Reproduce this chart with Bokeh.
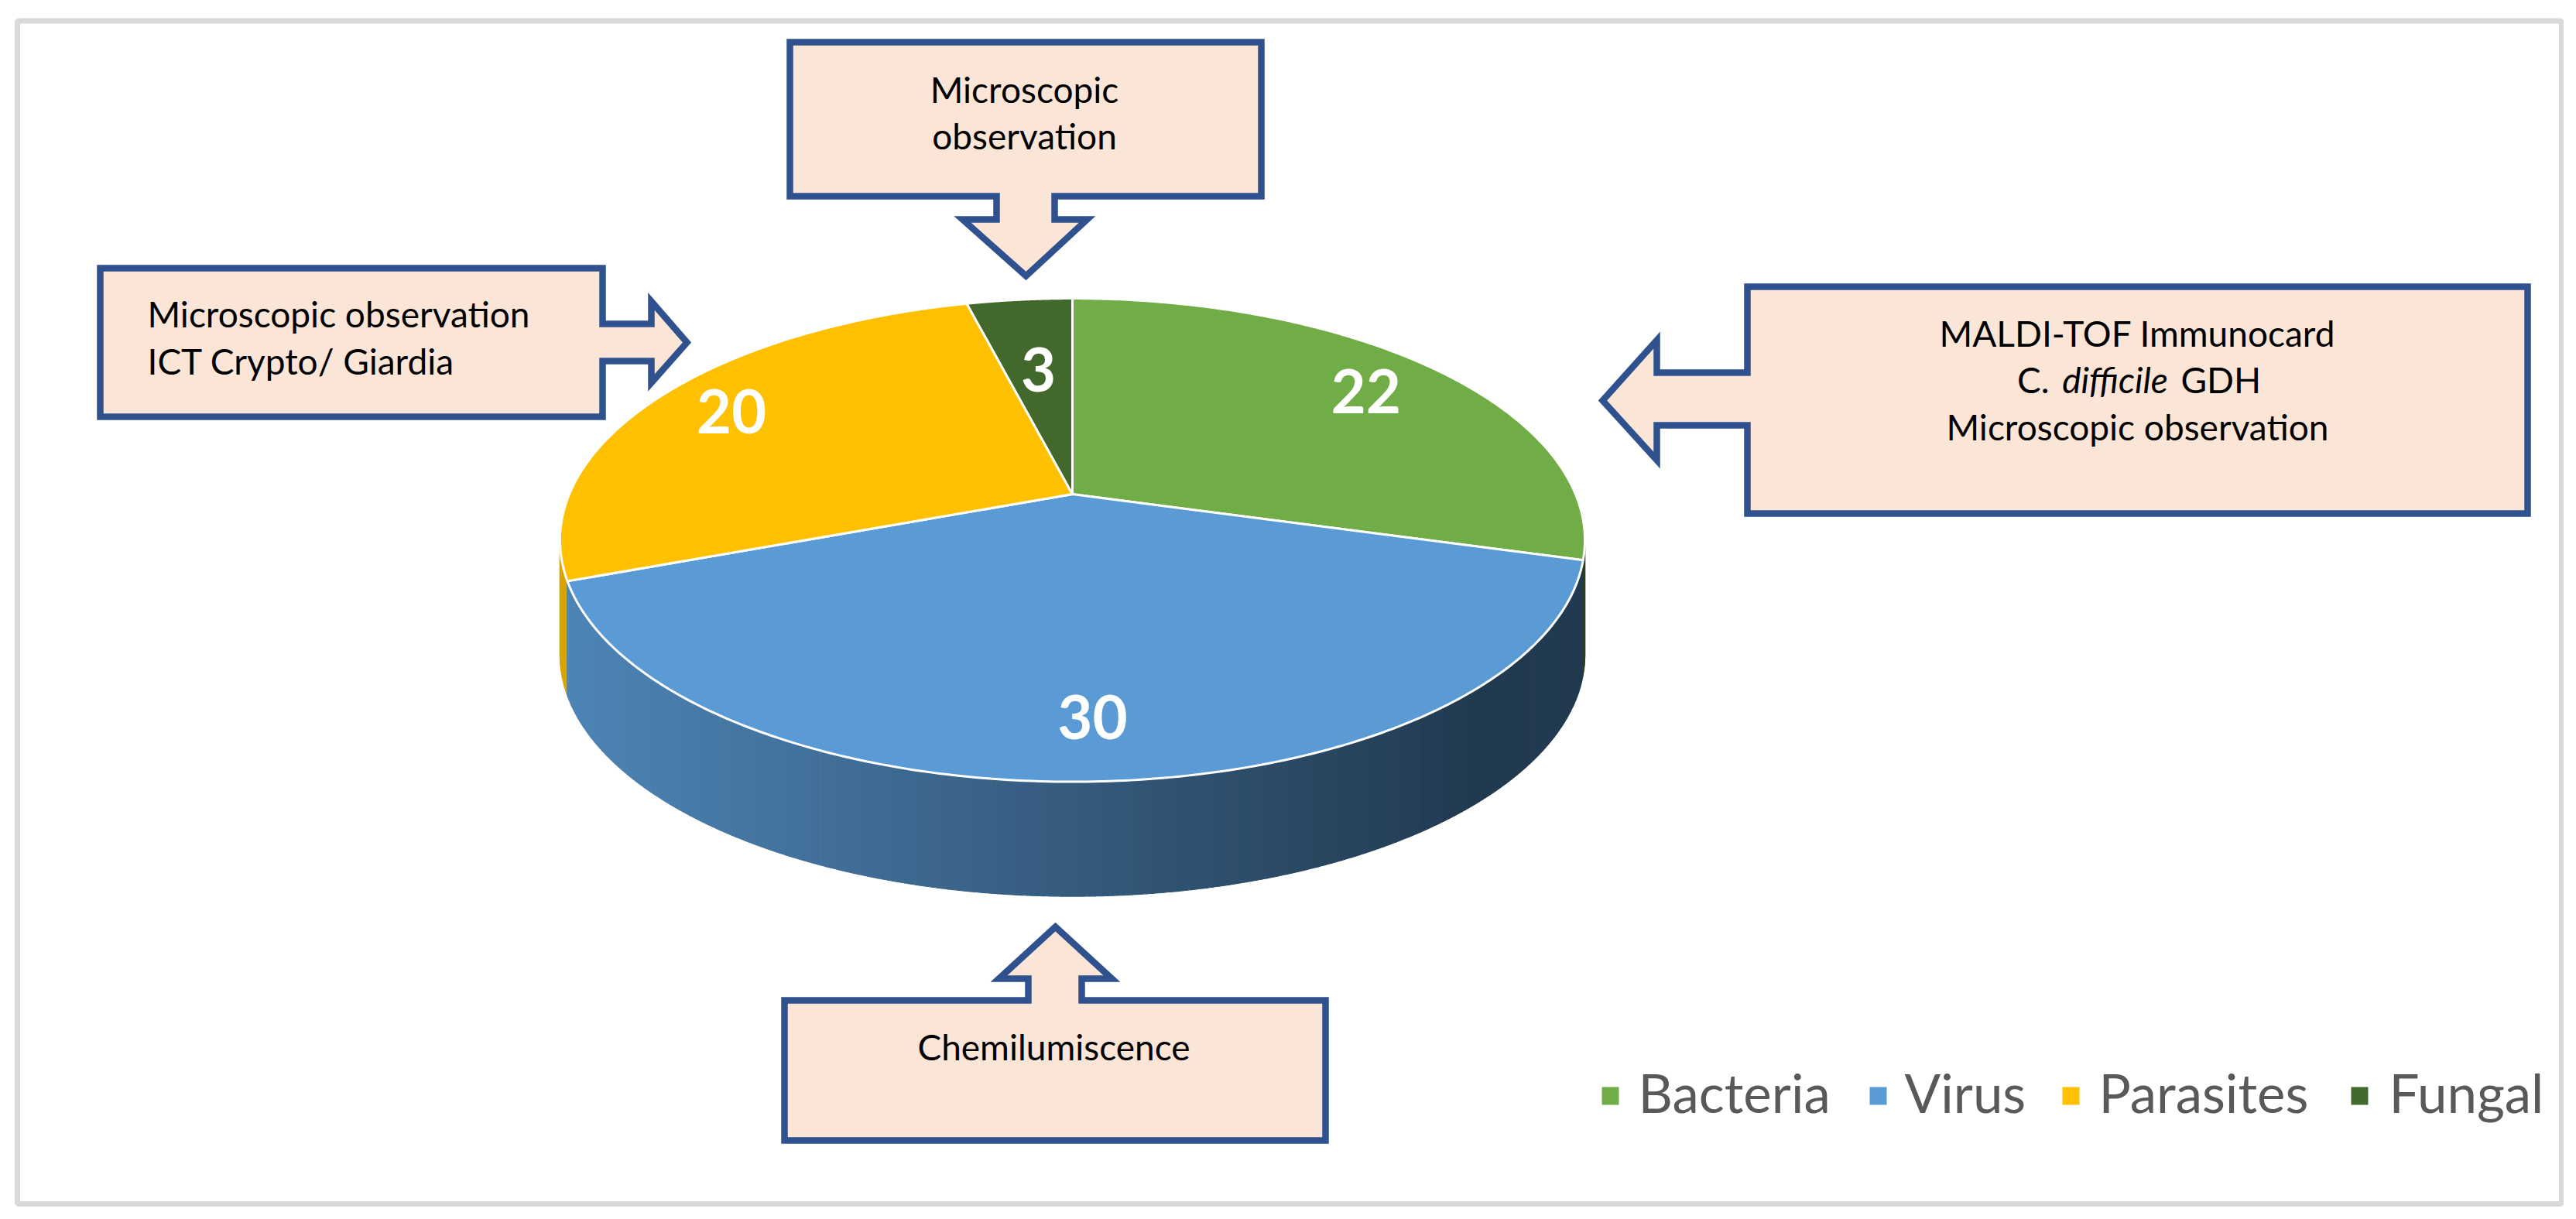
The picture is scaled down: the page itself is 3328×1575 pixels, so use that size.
import numpy as np
from bokeh.plotting import figure
from bokeh.models import Range1d, ColumnDataSource
from bokeh.core.properties import value
from bokeh.embed import file_html
from bokeh.resources import INLINE

# ---------------- data ----------------
categories = ["Bacteria", "Virus", "Parasites", "Fungal"]
counts = [22, 30, 20, 3]
slice_colors = ["#70AD47", "#5B9BD5", "#FFC000", "#43682B"]

top_callout = ["Microscopic", "observation"]
left_callout = ["Microscopic  observation", "ICT Crypto/ Giardia"]
right_callout_1 = "MALDI-TOF Immunocard"
right_callout_2 = ["C.", "difficile", "GDH"]
right_callout_3 = "Microscopic observation"
bottom_callout = ["Chemilumiscence"]

# ---------------- layout / style ----------------
W, H = 3312, 1559
FONT = "Lato"
CX, CY, A, B, K, DEPTH = 1385.0, 638.0, 650.0, 301.0, 0.19, 148.0
label_radius = [0.8, 0.81, 0.82, 0.6]
BOX_LINE = "#2F528F"
BOX_FILL = "#FBE5D6"
TXT_SIZE = 46
MID = 0.36 * TXT_SIZE  # baseline -> visual middle offset

p = figure(width=W, height=H, x_range=Range1d(0, W), y_range=Range1d(H, 0),
           output_backend="svg", toolbar_location=None, min_border=0,
           x_axis_type=None, y_axis_type=None, background_fill_color="white")
p.grid.visible = False
p.outline_line_color = None

# outer frame
p.quad(left=[22], right=[3309], top=[26.5], bottom=[1555], fill_color=None,
       line_color="#D9D9D9", line_width=7)


def proj(theta, r=1.0):
    u = r * np.cos(theta)
    v = -r * np.sin(theta)
    den = 1 - K * v
    return CX + A * u / den, CY + B * v / den


def hex2rgb(h):
    h = h.lstrip("#")
    return tuple(int(h[i:i + 2], 16) for i in (0, 2, 4))


def shade(h, f):
    r, g, b = hex2rgb(h)
    return "#%02x%02x%02x" % (int(r * f), int(g * f), int(b * f))


total = float(sum(counts))
starts, ends = [], []
acc = 0.0
for c in counts:
    s = np.pi / 2 - 2 * np.pi * acc / total
    acc += c
    e = np.pi / 2 - 2 * np.pi * acc / total
    starts.append(s)
    ends.append(e)


def slice_of(t):
    for i, (s, e) in enumerate(zip(starts, ends)):
        for sh in (0.0, 2 * np.pi, -2 * np.pi):
            if e < t + sh <= s:
                return i
    return 0


# ---------------- side (extrusion) ----------------
tv = np.linspace(-np.pi, 0, 4001)
xv, _ = proj(tv)
tL, tR = tv[np.argmin(xv)], tv[np.argmax(xv)]
xL, xR = xv.min(), xv.max()
ts = list(np.linspace(tL, tR, 301))
for s in starts + ends:
    for sh in (0.0, 2 * np.pi, -2 * np.pi):
        if tL < s + sh < tR:
            ts.append(s + sh)
ts = np.array(sorted(ts))
sx, sy, sc = [], [], []
for t0, t1 in zip(ts[:-1], ts[1:]):
    tt = np.linspace(t0, t1, 4)
    x, y = proj(tt)
    xm = proj((t0 + t1) / 2)[0]
    frac = np.clip((xm - xL) / (1900 - xL), 0, 1)
    f = 0.86 - 0.48 * frac
    col = shade(slice_colors[slice_of((t0 + t1) / 2)], f)
    sx.append(list(x) + list(x[::-1]))
    sy.append(list(y) + list((y + DEPTH)[::-1]))
    sc.append(col)
p.patches(xs=sx, ys=sy, fill_color=sc, line_color=sc, line_width=1.2)

# ---------------- top face ----------------
txs, tys = [], []
for s, e in zip(starts, ends):
    tt = np.linspace(s, e, 200)
    x, y = proj(tt)
    txs.append([CX] + list(x))
    tys.append([CY] + list(y))
top_src = ColumnDataSource(dict(xs=txs, ys=tys, color=slice_colors, name=categories))
p.patches(xs="xs", ys="ys", fill_color="color", line_color="white", line_width=3,
          line_join="round", source=top_src)

# data labels
lx, ly = [], []
for s, e, r in zip(starts, ends, label_radius):
    x, y = proj((s + e) / 2, r)
    lx.append(x)
    ly.append(y)
p.text(x=lx, y=ly, text=[str(c) for c in counts], text_font=value(FONT),
       text_font_style="bold", text_font_size="78px", text_color="white",
       text_align="center", text_baseline="middle")

# ---------------- callouts ----------------
def shape_down(L, R, T, Bm, sl, sr, sh, hl, hr, tip):
    return ([L, R, R, sr, sr, hr, tip[0], hl, sl, sl, L],
            [T, T, Bm, Bm, sh, sh, tip[1], sh, sh, Bm, Bm])


def shape_up(L, R, T, Bm, sl, sr, sh, hl, hr, tip):
    return ([L, sl, sl, hl, tip[0], hr, sr, sr, R, R, L],
            [T, T, sh, sh, tip[1], sh, sh, T, T, Bm, Bm])


def shape_right(L, R, T, Bm, st, sb, sh, ht, hb, tip):
    return ([L, R, R, sh, sh, tip[0], sh, sh, R, R, L],
            [T, T, st, st, ht, tip[1], hb, sb, sb, Bm, Bm])


def shape_left(L, R, T, Bm, st, sb, sh, ht, hb, tip):
    return ([L, R, R, L, L, sh, sh, tip[0], sh, sh, L],
            [T, T, Bm, Bm, sb, sb, hb, tip[1], ht, st, st])


shapes = [
    shape_down(1020, 1629, 54, 253, 1287, 1362, 283, 1243, 1404, (1325, 356)),
    shape_right(129, 778, 346, 538, 418, 466, 841, 389, 494, (887, 442)),
    shape_left(2257, 3265, 370, 663, 481, 549, 2140, 439, 594, (2070, 517)),
    shape_up(1013, 1712, 1292, 1473, 1328, 1397, 1264, 1290, 1436, (1363, 1197)),
]
p.patches(xs=[s[0] for s in shapes], ys=[s[1] for s in shapes], fill_color=BOX_FILL,
          line_color=BOX_LINE, line_width=8.5, line_join="miter")

common = dict(text_font=value(FONT), text_font_size="%dpx" % TXT_SIZE, text_color="black",
              text_baseline="middle")
p.text(x=[1323, 1323], y=[132 - MID, 192 - MID], text=top_callout, text_align="center", **common)
p.text(x=[190, 190], y=[422 - MID, 483 - MID], text=left_callout, text_align="left", **common)
p.text(x=[2761], y=[447 - MID], text=[right_callout_1], text_align="center", **common)
p.text(x=[2647], y=[507 - MID], text=[right_callout_2[0]], text_align="right", **common)
p.text(x=[2732], y=[507 - MID], text=[right_callout_2[1]], text_align="center",
       text_font_style="italic", **common)
p.text(x=[2817], y=[507 - MID], text=[right_callout_2[2]], text_align="left", **common)
p.text(x=[2761], y=[568 - MID], text=[right_callout_3], text_align="center", **common)
p.text(x=[1361], y=[1369 - MID], text=bottom_callout, text_align="center", **common)

# ---------------- legend ----------------
leg_sq_x = [2069, 2415, 2664, 3037]
leg_tx_x = [2116, 2460, 2711, 3086]
p.quad(left=leg_sq_x, right=[x + 22 for x in leg_sq_x], top=[1404] * 4, bottom=[1427] * 4,
       fill_color=slice_colors, line_color=None)
p.text(x=leg_tx_x, y=[1411] * 4, text=categories, text_font=value(FONT),
       text_font_size="69px", text_color="#595959", text_align="left",
       text_baseline="middle")

open("out.html", "w").write(file_html(p, INLINE))
